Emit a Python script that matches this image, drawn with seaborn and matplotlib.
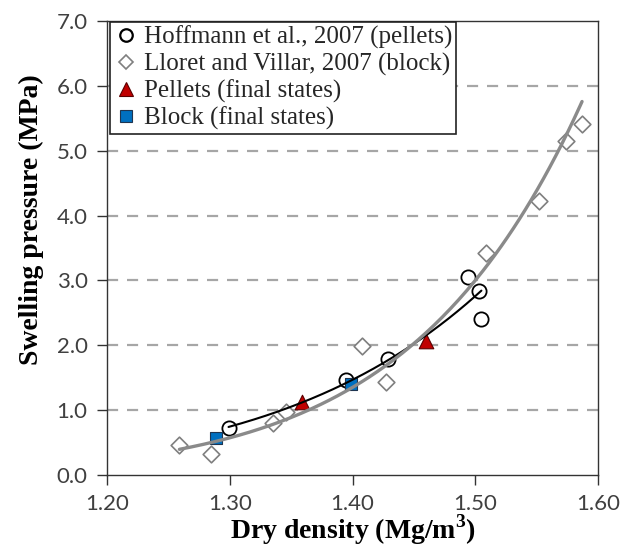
import numpy as np
import matplotlib
matplotlib.use("Agg")
import matplotlib.pyplot as plt
import seaborn as sns
from matplotlib.lines import Line2D
from matplotlib.ticker import FixedLocator, FormatStrFormatter

# ---------------- data ----------------
hoff_x = [1.299, 1.395, 1.429, 1.494, 1.503, 1.505]
hoff_y = [0.72, 1.47, 1.79, 3.05, 2.84, 2.41]

lloret_x = [1.259, 1.285, 1.335, 1.346, 1.408, 1.427, 1.509, 1.552, 1.574, 1.587]
lloret_y = [0.47, 0.33, 0.80, 0.97, 1.99, 1.44, 3.42, 4.23, 5.15, 5.41]

pellet_x = [1.359, 1.460]
pellet_y = [1.13, 2.06]

block_x = [1.289, 1.399]
block_y = [0.57, 1.40]

labels = ["Hoffmann et al., 2007 (pellets)",
          "Lloret and Villar, 2007 (block)",
          "Pellets (final states)",
          "Block (final states)"]
x_ticks = [1.20, 1.30, 1.40, 1.50, 1.60]
y_ticks = [0.0, 1.0, 2.0, 3.0, 4.0, 5.0, 6.0, 7.0]
x_label = "Dry density (Mg/m$^\\mathbf{3}$)"
y_label = "Swelling pressure (MPa)"


def power_trend(x, y, n=200):
    """Power-law trendline (least squares in log-log), like a spreadsheet trendline."""
    x = np.asarray(x, float)
    b, a = np.polyfit(np.log(x), np.log(np.asarray(y, float)), 1)
    xs = np.linspace(x.min(), x.max(), n)
    return xs, np.exp(a) * xs ** b


# ---------------- style ----------------
sns.set_style("ticks")
plt.rcParams["font.family"] = ["Lato", "DejaVu Sans"]
plt.rcParams["mathtext.fontset"] = "custom"
plt.rcParams["mathtext.rm"] = "Liberation Serif"
plt.rcParams["mathtext.bf"] = "Liberation Serif:bold"

W, H = 635, 547
fig = plt.figure(figsize=(W / 100, H / 100), dpi=100)
ax = fig.add_axes([107 / W, 1 - 475 / H, 491 / W, 454 / H])

# ---------------- trendlines ----------------
hx, hy = power_trend(hoff_x, hoff_y)
lx, ly = power_trend(lloret_x, lloret_y)
sns.lineplot(x=hx, y=hy, ax=ax, color="black", linewidth=1.5, zorder=5,
             sort=False, legend=False)
sns.lineplot(x=lx, y=ly, ax=ax, color="#8a8a8a", linewidth=2.4, zorder=6,
             sort=False, legend=False)

# ---------------- markers ----------------
sns.scatterplot(x=hoff_x, y=hoff_y, ax=ax, marker="o", s=105, color="white",
                edgecolor="black", linewidth=1.3, zorder=4, legend=False)
sns.scatterplot(x=lloret_x, y=lloret_y, ax=ax, marker="D", s=72, color="white",
                edgecolor="#7f7f7f", linewidth=1.2, zorder=4, legend=False)
sns.scatterplot(x=pellet_x, y=pellet_y, ax=ax, marker="^", s=110, color="#c00000",
                edgecolor="#5a0000", linewidth=0.8, zorder=4, legend=False)
sns.scatterplot(x=block_x, y=block_y, ax=ax, marker="s", s=85, color="#0070c0",
                edgecolor="#1f3550", linewidth=0.8, zorder=4, legend=False)

# ---------------- axes ----------------
ax.set_xlim(1.20, 1.60)
ax.set_ylim(0.0, 7.0)
ax.xaxis.set_major_locator(FixedLocator(x_ticks))
ax.yaxis.set_major_locator(FixedLocator(y_ticks))
ax.xaxis.set_major_formatter(FormatStrFormatter("%.2f"))
ax.yaxis.set_major_formatter(FormatStrFormatter("%.1f"))

ax.yaxis.grid(True, color="#a6a6a6", linewidth=1.6, linestyle=(0, (5, 4)))
ax.set_axisbelow(True)
gl = ax.get_ygridlines()
gl[0].set_visible(False)
gl[-1].set_visible(False)

for sp in ax.spines.values():
    sp.set_visible(True)
    sp.set_color("#333333")
    sp.set_linewidth(1.0)

ax.tick_params(axis="both", direction="out", length=7, width=1.0,
               color="#333333", labelsize=16, labelcolor="#404040",
               top=False, right=False)
ax.tick_params(axis="x", pad=7)
ax.tick_params(axis="y", pad=7)

ax.set_xlabel(x_label, fontsize=20, fontweight="bold",
              family="Liberation Serif", color="black")
ax.set_ylabel(y_label, fontsize=20, fontweight="bold",
              family="Liberation Serif", color="black")
ax.xaxis.set_label_coords(0.5, -0.083)
ax.yaxis.set_label_coords(-0.128, 0.562)

# ---------------- legend ----------------
handles = [
    Line2D([], [], linestyle="none", marker="o", markersize=9, markerfacecolor="white",
           markeredgecolor="black", markeredgewidth=1.6),
    Line2D([], [], linestyle="none", marker="D", markersize=7, markerfacecolor="white",
           markeredgecolor="#7f7f7f", markeredgewidth=1.2),
    Line2D([], [], linestyle="none", marker="^", markersize=10, markerfacecolor="#c00000",
           markeredgecolor="#5a0000", markeredgewidth=0.8),
    Line2D([], [], linestyle="none", marker="s", markersize=9, markerfacecolor="#0070c0",
           markeredgecolor="#1f3550", markeredgewidth=0.8),
]
leg = ax.legend(handles, labels, loc="upper left", bbox_to_anchor=(0.006, 0.998),
                borderaxespad=0, frameon=True, fancybox=False, framealpha=1,
                edgecolor="#222222", prop={"family": "Liberation Serif", "size": 18},
                handlelength=1.0, handletextpad=0.2, labelspacing=0.15,
                borderpad=0.15)
leg.get_frame().set_linewidth(1.2)
leg.set_zorder(10)

fig.savefig("out.png", dpi=100)
